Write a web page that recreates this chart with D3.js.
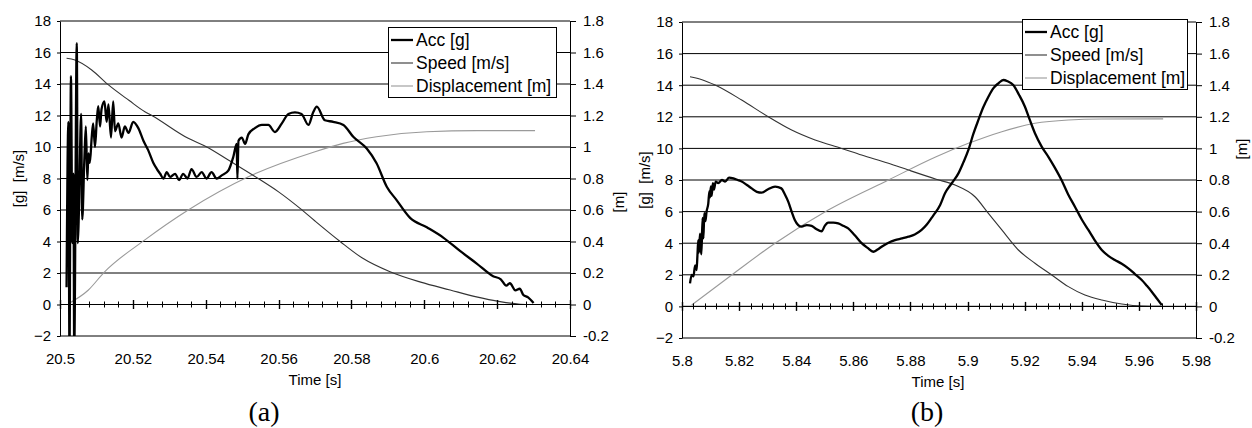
<!DOCTYPE html>
<html>
<head>
<meta charset="utf-8">
<script src="https://cdn.jsdelivr.net/npm/d3@7"></script>
<style>
  body { margin: 0; background: #fff; }
  svg text { font-family: "Liberation Sans", Arial, sans-serif; fill: #000; }
</style>
</head>
<body>
<svg id="fig" width="1252" height="428"></svg>
<script>
// ---- tick labels ----
const gTicks = [-2, 0, 2, 4, 6, 8, 10, 12, 14, 16, 18];
const mTicks = [-0.2, 0, 0.2, 0.4, 0.6, 0.8, 1, 1.2, 1.4, 1.6, 1.8];
const timeTicksA = [20.5, 20.52, 20.54, 20.56, 20.58, 20.6, 20.62, 20.64];
const timeTicksB = [5.8, 5.82, 5.84, 5.86, 5.88, 5.9, 5.92, 5.94, 5.96, 5.98];
const seriesNames = ["Acc [g]", "Speed [m/s]", "Displacement [m]"];

// ---- run (a) : [time s, value] ----
const accA = [
  [20.5018, 1.1], [20.5023, 11.6], [20.5026, -3], [20.5030, 14.5], [20.5034, 3.9],
  [20.5037, 8.3], [20.5039, -3], [20.5046, 16.6], [20.5049, 3.9], [20.5052, 6.0],
  [20.5058, 12.1], [20.5061, 5.4], [20.5067, 9.3], [20.5071, 11.3], [20.5075, 7.9],
  [20.5078, 9.6], [20.5082, 9.0], [20.5087, 10.6], [20.5091, 11.5], [20.5096, 10.0],
  [20.5101, 11.7], [20.5105, 12.6], [20.5110, 11.3], [20.5114, 12.4], [20.5122, 12.9],
  [20.5128, 11.6], [20.5133, 12.7], [20.5140, 10.6], [20.5146, 12.9], [20.5151, 11.0],
  [20.5160, 11.5], [20.5169, 10.6], [20.5178, 11.3], [20.5188, 10.9], [20.5201, 11.6],
  [20.5215, 11.2], [20.5229, 10.4], [20.5242, 9.8], [20.5256, 9.0], [20.5266, 8.6],
  [20.5275, 8.3], [20.5284, 8.0], [20.5293, 8.4], [20.5302, 8.1], [20.5316, 8.3],
  [20.5327, 7.9], [20.5338, 8.3], [20.5350, 8.0], [20.5361, 8.6], [20.5375, 8.1],
  [20.5389, 8.4], [20.5402, 8.0], [20.5416, 8.4], [20.5430, 8.0], [20.5444, 8.2],
  [20.5462, 8.5], [20.5476, 9.4], [20.5485, 10.2], [20.5487, 8.0], [20.5490, 10.4],
  [20.5499, 10.6], [20.5508, 10.2], [20.5517, 10.8], [20.5535, 11.2], [20.5554, 11.4],
  [20.5572, 11.4], [20.5590, 10.95], [20.5609, 11.5], [20.5627, 12.1], [20.5645, 12.2],
  [20.5663, 12.1], [20.5682, 11.4], [20.5695, 12.2], [20.5705, 12.56], [20.5727, 11.7],
  [20.5750, 11.6], [20.5778, 11.4], [20.5805, 10.65], [20.5842, 9.9], [20.5869, 8.97],
  [20.5897, 7.48], [20.5924, 6.63], [20.5961, 5.5], [20.6007, 4.9], [20.6052, 4.25],
  [20.6098, 3.4], [20.6144, 2.6], [20.6189, 1.8], [20.6210, 1.6], [20.6225, 1.2],
  [20.6235, 1.35], [20.6250, 0.9], [20.6262, 1.0], [20.6272, 0.6], [20.6285, 0.45],
  [20.6300, 0.1]
];
const speedA = [
  [20.5018, 15.63], [20.5041, 15.52], [20.5087, 14.89], [20.5133, 13.94], [20.5190, 12.95],
  [20.5233, 12.24], [20.5252, 12.0], [20.5352, 10.55], [20.5403, 10.0], [20.5462, 9.17],
  [20.5544, 8.0], [20.5600, 7.15], [20.5659, 6.1], [20.5700, 5.3], [20.5769, 4.0],
  [20.5830, 2.95], [20.5906, 2.08], [20.5990, 1.42], [20.6071, 0.92], [20.6140, 0.5],
  [20.6208, 0.18], [20.6263, 0.02], [20.6300, 0.0]
];
const dispA = [
  [20.5023, 0.005], [20.5078, 0.092], [20.5121, 0.204], [20.5233, 0.41], [20.5352, 0.6],
  [20.5517, 0.811], [20.5700, 0.97], [20.5777, 1.023], [20.5869, 1.065], [20.6007, 1.097],
  [20.6144, 1.104], [20.6304, 1.104]
];

// ---- run (b) ----
const accB = [
  [5.8028, 1.46], [5.8034, 2.0], [5.8040, 1.9], [5.8046, 2.6], [5.8051, 2.3],
  [5.8054, 3.2], [5.8057, 4.2], [5.8059, 3.4], [5.8063, 4.6], [5.8066, 3.6],
  [5.8068, 3.3], [5.8072, 5.6], [5.8075, 4.3], [5.8078, 5.9], [5.8082, 5.4],
  [5.8086, 6.0], [5.8092, 6.5], [5.8096, 7.3], [5.8098, 6.9], [5.8101, 7.6],
  [5.8104, 7.0], [5.8108, 7.8], [5.8112, 7.4], [5.8118, 7.9], [5.8127, 7.8],
  [5.8140, 8.0], [5.8151, 7.9], [5.8165, 8.15], [5.8180, 8.1], [5.8195, 8.0],
  [5.8209, 7.9], [5.8226, 7.7], [5.8244, 7.47], [5.8262, 7.25], [5.8279, 7.2],
  [5.8300, 7.4], [5.8326, 7.58], [5.8348, 7.47], [5.8360, 7.1], [5.8372, 6.63],
  [5.8384, 6.0], [5.8395, 5.47], [5.8407, 5.15], [5.8419, 5.05], [5.8437, 5.15],
  [5.8454, 5.1], [5.8470, 4.9], [5.8489, 4.75], [5.8500, 5.1], [5.8512, 5.3],
  [5.8530, 5.3], [5.8547, 5.25], [5.8565, 5.1], [5.8582, 4.94], [5.8605, 4.5],
  [5.8629, 4.0], [5.8650, 3.7], [5.8670, 3.46], [5.8685, 3.6], [5.8699, 3.78],
  [5.8720, 4.0], [5.8746, 4.2], [5.8770, 4.3], [5.8793, 4.41], [5.8815, 4.55],
  [5.8839, 4.84], [5.8858, 5.2], [5.8874, 5.6], [5.8886, 5.9], [5.8904, 6.42],
  [5.8921, 7.16], [5.8945, 7.8], [5.8968, 8.42], [5.8985, 9.1], [5.9003, 9.9],
  [5.9020, 10.9], [5.9038, 11.8], [5.9055, 12.6], [5.9073, 13.27], [5.9090, 13.8],
  [5.9108, 14.12], [5.9125, 14.33], [5.9140, 14.25], [5.9160, 14.01], [5.9180, 13.4],
  [5.9201, 12.64], [5.9218, 11.8], [5.9236, 10.96], [5.9260, 10.1], [5.9283, 9.47],
  [5.9305, 8.8], [5.9329, 8.0], [5.9352, 7.1], [5.9376, 6.31], [5.9400, 5.5],
  [5.9423, 4.84], [5.9445, 4.2], [5.9470, 3.57], [5.9493, 3.2], [5.9516, 2.94],
  [5.9540, 2.7], [5.9563, 2.41], [5.9586, 2.05], [5.9610, 1.67], [5.9628, 1.3],
  [5.9645, 0.93], [5.9663, 0.5], [5.9680, 0.09]
];
const speedB = [
  [5.8028, 14.54], [5.8070, 14.35], [5.8116, 14.01], [5.8209, 13.06], [5.8302, 12.0],
  [5.8384, 11.16], [5.8466, 10.53], [5.8559, 10.0], [5.8629, 9.58], [5.8723, 9.06],
  [5.8793, 8.63], [5.8890, 8.05], [5.8956, 7.68], [5.9026, 6.94], [5.9073, 5.89],
  [5.9120, 4.84], [5.9178, 3.57], [5.9236, 2.73], [5.9295, 1.99], [5.9353, 1.25],
  [5.9411, 0.72], [5.9470, 0.4], [5.9540, 0.15], [5.9610, 0.02], [5.9680, 0.0]
];
const dispB = [
  [5.8034, 0.009], [5.8174, 0.199], [5.8326, 0.40], [5.8512, 0.61], [5.8723, 0.80],
  [5.8890, 0.947], [5.9003, 1.032], [5.9120, 1.106], [5.9236, 1.159], [5.9353, 1.18],
  [5.9470, 1.186], [5.9685, 1.187]
];

const svg = d3.select("#fig");
const fmt1 = d => String(+d.toFixed(1));
const fmt2 = d => String(+d.toFixed(2));

function drawPanel(p) {
  const g = svg.append("g");
  const x = d3.scaleLinear().domain([p.t0, p.t1]).range([p.left, p.right]);
  const y = d3.scaleLinear().domain([-2, 18]).range([p.bottom, p.top]);
  const y2 = d3.scaleLinear().domain([-0.2, 1.8]).range([p.bottom, p.top]);

  const clipId = "clip" + p.id;
  g.append("clipPath").attr("id", clipId).append("rect")
    .attr("x", p.left).attr("y", p.top)
    .attr("width", p.right - p.left).attr("height", p.bottom - p.top);

  // horizontal gridlines
  g.append("g").selectAll("line").data(gTicks).join("line")
    .attr("x1", p.left).attr("x2", p.right)
    .attr("y1", d => y(d)).attr("y2", d => y(d))
    .attr("stroke", "#000").attr("stroke-width", 1);

  // series
  const plot = g.append("g").attr("clip-path", `url(#${clipId})`);
  const lineG = d3.line().curve(d3.curveMonotoneX).x(d => x(d[0])).y(d => y(d[1]));
  const lineM = d3.line().curve(d3.curveMonotoneX).x(d => x(d[0])).y(d => y2(d[1]));
  plot.append("path").datum(p.disp).attr("d", lineM)
    .attr("fill", "none").attr("stroke", "#9a9a9a").attr("stroke-width", 1.1);
  plot.append("path").datum(p.speed).attr("d", lineG)
    .attr("fill", "none").attr("stroke", "#333").attr("stroke-width", 1.1);

  // zero line with crossing ticks
  const y0 = y(0);
  g.append("line").attr("x1", p.left).attr("x2", p.right)
    .attr("y1", y0).attr("y2", y0).attr("stroke", "#000");
  const minor = d3.range(0, Math.round((p.t1 - p.t0) / 0.004) + 1).map(i => p.t0 + i * 0.004);
  g.append("g").selectAll("line").data(minor).join("line")
    .attr("x1", d => Math.round(x(d)) + 0.5).attr("x2", d => Math.round(x(d)) + 0.5)
    .attr("y1", (d, i) => y0 - (i % 5 === 0 ? 4.5 : 3))
    .attr("y2", (d, i) => y0 + (i % 5 === 0 ? 4.5 : 3))
    .attr("stroke", "#000").attr("stroke-width", (d, i) => i % 5 === 0 ? 1.4 : 1);

  plot.append("path").datum(p.acc).attr("d", lineG)
    .attr("fill", "none").attr("stroke", "#000").attr("stroke-width", 2.3)
    .attr("stroke-linejoin", "round");

  // left axis
  const ax = g.append("g").attr("transform", `translate(${p.left},0)`)
    .call(d3.axisLeft(y).tickValues(gTicks).tickSize(3).tickSizeOuter(0).tickPadding(6));
  // right axis
  const ax2 = g.append("g").attr("transform", `translate(${p.right},0)`)
    .call(d3.axisRight(y2).tickValues(mTicks).tickSize(6).tickSizeOuter(0).tickPadding(7).tickFormat(fmt1));
  // time labels (no tick marks)
  const ax3 = g.append("g").attr("transform", `translate(0,${p.bottom})`)
    .call(d3.axisBottom(x).tickValues(p.timeTicks).tickSize(0).tickPadding(17).tickFormat(fmt2));
  ax3.select(".domain").remove();
  [ax, ax2, ax3].forEach(a => {
    a.attr("font-family", null).attr("font-size", null);
    a.selectAll("text").style("font-size", "15px");
    a.selectAll("line, path").attr("stroke", "#000");
  });

  // axis titles
  g.append("text").attr("transform", `translate(${p.yTitleX},${(p.top + p.bottom) / 2}) rotate(-90)`)
    .attr("text-anchor", "middle").style("font-size", "15px").style("white-space", "pre")
    .text("[g]  [m/s]");
  g.append("text").attr("transform", `translate(${p.mTitleX},${p.mTitleY}) rotate(-90)`)
    .attr("text-anchor", "middle").style("font-size", "15px").text("[m]");
  g.append("text").attr("x", p.timeTitleX).attr("y", p.bottom + 49)
    .attr("text-anchor", "middle").style("font-size", "15px").text("Time [s]");
  g.append("text").attr("x", p.capX).attr("y", 421)
    .attr("text-anchor", "middle")
    .style("font-family", "'Liberation Serif','Times New Roman',serif").style("font-size", "28px")
    .text(p.caption);

  // legend
  const lg = g.append("g").attr("transform", `translate(${p.legX},${p.legY})`);
  lg.append("rect").attr("x", 0.5).attr("y", 0.5).attr("width", p.legW).attr("height", 70)
    .attr("fill", "#fff").attr("stroke", "#000");
  const legStyle = [
    { color: "#000", w: 2.3 },
    { color: "#333", w: 1.1 },
    { color: "#9a9a9a", w: 1.1 }
  ];
  seriesNames.forEach((name, i) => {
    const cy = 13 + i * 23;
    lg.append("line").attr("x1", 3).attr("x2", 25).attr("y1", cy).attr("y2", cy)
      .attr("stroke", legStyle[i].color).attr("stroke-width", legStyle[i].w);
    lg.append("text").attr("x", 28).attr("y", cy).attr("dy", "0.36em")
      .style("font-size", "17.5px").text(name);
  });
}

drawPanel({
  id: "a", t0: 20.5, t1: 20.64, left: 60, right: 570, top: 21, bottom: 336,
  acc: accA, speed: speedA, disp: dispA, timeTicks: timeTicksA,
  yTitleX: 24, mTitleX: 624, mTitleY: 202, timeTitleX: 315, capX: 264, caption: "(a)",
  legX: 388, legY: 27, legW: 168
});
drawPanel({
  id: "b", t0: 5.8, t1: 5.98, left: 682, right: 1196, top: 22, bottom: 338,
  acc: accB, speed: speedB, disp: dispB, timeTicks: timeTicksB,
  yTitleX: 650, mTitleX: 1247, mTitleY: 149, timeTitleX: 938, capX: 927, caption: "(b)",
  legX: 1022, legY: 19, legW: 165
});
</script>
</body>
</html>
